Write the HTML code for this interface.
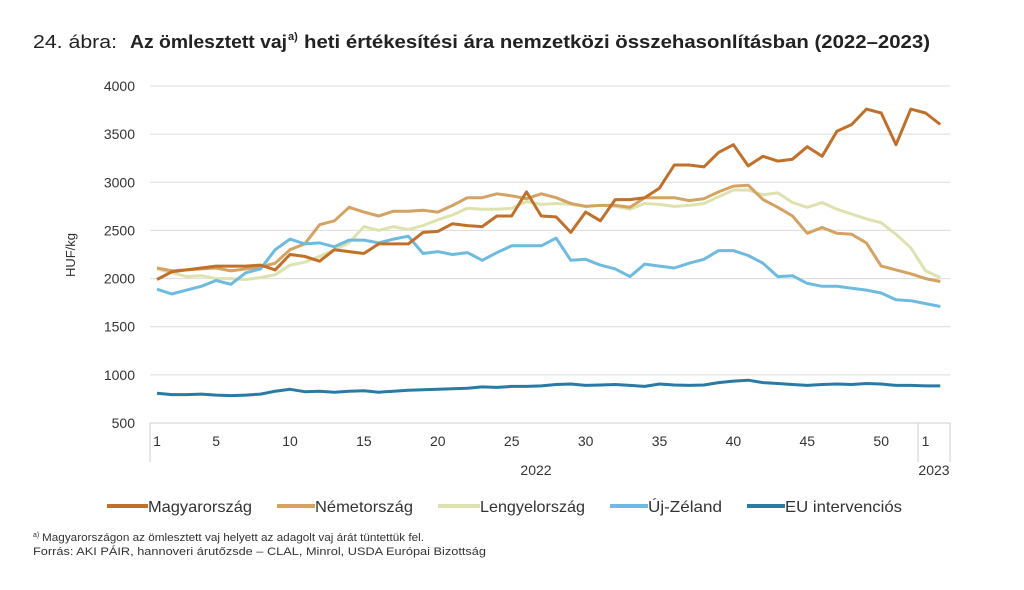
<!DOCTYPE html>
<html><head><meta charset="utf-8"><style>
body{margin:0;background:#fff;width:1024px;height:585px;overflow:hidden;font-family:"Liberation Sans",sans-serif}
</style></head><body>
<svg id="s" width="1024" height="585" xmlns="http://www.w3.org/2000/svg" font-family="Liberation Sans, sans-serif">
<text x="33" y="48" font-size="18" fill="#222" textLength="84" lengthAdjust="spacingAndGlyphs">24. ábra:</text>
<text x="130" y="48" font-size="18" fill="#222" font-weight="bold" textLength="157" lengthAdjust="spacingAndGlyphs">Az ömlesztett vaj</text>
<text x="288" y="40" font-size="11" fill="#222" font-weight="bold">a)</text>
<text x="304" y="48" font-size="18" fill="#222" font-weight="bold" textLength="626" lengthAdjust="spacingAndGlyphs">heti értékesítési ára nemzetközi összehasonlításban (2022–2023)</text>
<g id="grid" stroke="#dcdcdc" stroke-width="1"></g>
<g id="ylab" font-size="14" fill="#333" text-anchor="end"></g>
<text transform="translate(75,255) rotate(-90)" font-size="13" fill="#333" text-anchor="middle">HUF/kg</text>
<line x1="150" y1="423" x2="950" y2="423" stroke="#ccc"/>
<line x1="150" y1="423" x2="150" y2="462" stroke="#ccc"/>
<line x1="918" y1="423" x2="918" y2="462" stroke="#ccc"/>
<line x1="950" y1="423" x2="950" y2="462" stroke="#ccc"/>
<g id="xlab" font-size="14" fill="#333" text-anchor="middle"></g>
<text x="536" y="475" font-size="14" fill="#333" text-anchor="middle">2022</text>
<text x="934" y="475" font-size="14" fill="#333" text-anchor="middle">2023</text>
<g id="lines" fill="none" stroke-width="3" stroke-linejoin="round"></g>
<g font-size="16" fill="#333">
<line x1="107" y1="506" x2="148" y2="506" stroke="#C0702A" stroke-width="4"/><text x="148" y="512" textLength="104" lengthAdjust="spacingAndGlyphs">Magyarország</text>
<line x1="277" y1="506" x2="315" y2="506" stroke="#D4A262" stroke-width="4"/><text x="315" y="512" textLength="98" lengthAdjust="spacingAndGlyphs">Németország</text>
<line x1="438" y1="506" x2="480" y2="506" stroke="#DDE2AE" stroke-width="4"/><text x="480" y="512" textLength="105" lengthAdjust="spacingAndGlyphs">Lengyelország</text>
<line x1="610" y1="506" x2="648" y2="506" stroke="#6FBBE0" stroke-width="4"/><text x="648" y="512" textLength="74" lengthAdjust="spacingAndGlyphs">Új-Zéland</text>
<line x1="747" y1="506" x2="785" y2="506" stroke="#2A7AA6" stroke-width="4"/><text x="785" y="512" textLength="117" lengthAdjust="spacingAndGlyphs">EU intervenciós</text>
</g>
<text x="33" y="537" font-size="7" fill="#333">a)</text>
<text x="42" y="541" font-size="11" fill="#333" textLength="382" lengthAdjust="spacingAndGlyphs">Magyarországon az ömlesztett vaj helyett az adagolt vaj árát tüntettük fel.</text>
<text x="33" y="555" font-size="11" fill="#333" textLength="453" lengthAdjust="spacingAndGlyphs">Forrás: AKI PÁIR, hannoveri árutőzsde – CLAL, Minrol, USDA Európai Bizottság</text>
</svg>
<script>
var ns="http://www.w3.org/2000/svg";
function el(p,t,a,txt){var e=document.createElementNS(ns,t);for(var k in a)e.setAttribute(k,a[k]);if(txt!=null)e.textContent=txt;document.getElementById(p).appendChild(e);}
function Y(v){return 423-(v-500)*337/3500;}
function X(i){return 157+i*14.78;}
for(var v=1000;v<=4000;v+=500){el("grid","line",{x1:150,x2:950,y1:Y(v),y2:Y(v)});}
for(var v=500;v<=4000;v+=500){el("ylab","text",{x:135,y:Y(v)+5},v);}
[1,5,10,15,20,25,30,35,40,45,50].forEach(function(w){el("xlab","text",{x:X(w-1),y:446},w);});
el("xlab","text",{x:X(52),y:446},"1");
var D={
"#DDE2AE":[2100,2060,2020,2030,2000,2000,1990,2010,2040,2140,2170,2230,2300,2370,2540,2500,2540,2510,2550,2610,2660,2730,2720,2720,2730,2800,2770,2780,2770,2750,2760,2750,2720,2780,2770,2750,2760,2780,2850,2920,2920,2870,2890,2790,2740,2790,2720,2670,2620,2580,2460,2320,2080,2010],
"#D4A262":[2110,2080,2090,2100,2110,2080,2100,2120,2160,2300,2360,2560,2600,2740,2690,2650,2700,2700,2710,2690,2760,2840,2840,2880,2860,2830,2880,2840,2780,2750,2760,2760,2740,2840,2840,2840,2810,2830,2900,2960,2970,2820,2740,2650,2470,2530,2470,2460,2370,2130,2090,2050,2000,1970],
"#6FBBE0":[1890,1840,1880,1920,1980,1940,2060,2100,2300,2410,2360,2370,2330,2400,2400,2370,2410,2440,2260,2280,2250,2270,2190,2270,2340,2340,2340,2420,2190,2200,2140,2100,2020,2150,2130,2110,2160,2200,2290,2290,2240,2160,2020,2030,1950,1920,1920,1900,1880,1850,1780,1770,1740,1710],
"#C0702A":[1990,2070,2090,2110,2130,2130,2130,2140,2090,2250,2230,2180,2300,2280,2260,2360,2360,2360,2480,2490,2570,2550,2540,2650,2650,2900,2650,2640,2480,2690,2600,2820,2820,2840,2940,3180,3180,3160,3310,3390,3170,3270,3220,3240,3370,3270,3530,3600,3760,3720,3390,3760,3720,3600],
"#2A7AA6":[810,795,795,800,790,785,790,800,830,850,825,830,820,830,835,820,830,840,845,850,855,860,875,870,880,880,885,900,905,890,895,900,890,880,905,895,890,895,920,935,945,920,910,900,890,900,905,900,910,905,890,890,885,885]};
for(var c in D){var p=D[c].map(function(v,i){return X(i).toFixed(1)+","+Y(v).toFixed(1);}).join(" ");el("lines","polyline",{points:p,stroke:c});}
</script>
</body></html>
